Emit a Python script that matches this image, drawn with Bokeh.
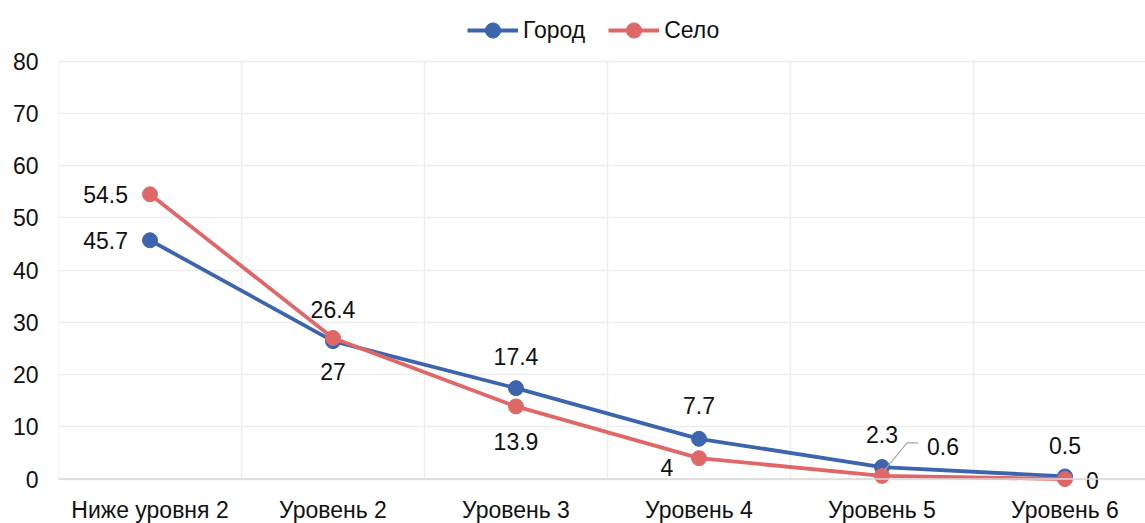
from bokeh.plotting import figure
from bokeh.models import Range1d, FixedTicker, Legend, LegendItem, ColumnDataSource, Span
from bokeh.core.properties import value
from bokeh.embed import file_html
from bokeh.resources import INLINE

# ---- data ----
categories = ["Ниже уровня 2", "Уровень 2", "Уровень 3", "Уровень 4", "Уровень 5", "Уровень 6"]
gorod = [45.7, 26.4, 17.4, 7.7, 2.3, 0.5]
selo = [54.5, 27.0, 13.9, 4.0, 0.6, 0.0]
y_ticks = [0, 10, 20, 30, 40, 50, 60, 70, 80]
series_names = ["Город", "Село"]

# ---- styles ----
BLUE = "#3d65ad"
RED = "#e06767"
FONT = "Liberation Sans"
FS = "23px"
CAT_PX = 183            # width of one category band in px
Y_UNIT_PX = 418 / 80.0  # px per y unit
Y_PAD = 2               # room below zero so markers/labels at 0 are not clipped
FRAME_W = 1087
FRAME_H = 489
Y_TOP = -Y_PAD + FRAME_H / Y_UNIT_PX

# label placement (screen px offsets, style only)
g_xoff = [-22, 0, 0, 0, 0, 0]
g_yoff = [0, -32, -32, -33, -33, -31]
g_align = ["right", "center", "center", "center", "center", "center"]
s_xoff = [-22, 0, 0, -32, 45, 21]
s_yoff = [0, 34, 35, 9, -29, 1]
s_align = ["right", "center", "center", "center", "left", "left"]

x = [i + 0.5 for i in range(len(categories))]

p = figure(frame_width=FRAME_W, frame_height=FRAME_H,
           min_border_left=58, min_border_right=0, min_border_top=0, min_border_bottom=34,
           x_range=Range1d(0, FRAME_W / CAT_PX), y_range=Range1d(-Y_PAD, Y_TOP),
           output_backend="svg", toolbar_location=None)
p.outline_line_color = None
p.background_fill_color = "white"

# axes
p.xaxis.ticker = FixedTicker(ticks=x)
p.xaxis.major_label_overrides = {xi: c for xi, c in zip(x, categories)}
p.yaxis.ticker = FixedTicker(ticks=y_ticks)
for ax in (p.xaxis[0], p.yaxis[0]):
    ax.major_tick_line_color = None
    ax.minor_tick_line_color = None
    ax.major_tick_out = 0
    ax.major_tick_in = 0
    ax.axis_line_color = None
    ax.major_label_text_font = FONT
    ax.major_label_text_font_size = FS
    ax.major_label_text_color = "#111111"
p.yaxis.major_label_standoff = 20
p.xaxis.major_label_standoff = 7

# grids: horizontal via ygrid, vertical category boundaries limited to 0..80
p.ygrid.ticker = FixedTicker(ticks=y_ticks)
p.ygrid.grid_line_color = "#ededed"
p.ygrid.grid_line_width = 1.5
p.xgrid.grid_line_color = None
bounds = list(range(len(categories) + 1))
p.segment(x0=bounds, y0=[y_ticks[0]] * len(bounds), x1=bounds, y1=[y_ticks[-1]] * len(bounds),
          line_color="#ededed", line_width=1.5)
p.add_layout(Span(location=y_ticks[0], dimension="width", line_color="#d9d9d9", line_width=1.5))

src = ColumnDataSource(dict(
    x=x, gorod=gorod, selo=selo,
    g_lab=[f"{v:g}" for v in gorod], s_lab=[f"{v:g}" for v in selo],
    g_xoff=g_xoff, g_yoff=g_yoff, g_align=g_align,
    s_xoff=s_xoff, s_yoff=s_yoff, s_align=s_align,
))

gl = p.line("x", "gorod", source=src, line_color=BLUE, line_width=3.8)
gc = p.scatter("x", "gorod", source=src, size=15, fill_color=BLUE, line_color=BLUE)
sl = p.line("x", "selo", source=src, line_color=RED, line_width=3.8)
sc = p.scatter("x", "selo", source=src, size=15, fill_color=RED, line_color=RED)

# leader line for the small "Село" label at Уровень 5
i5 = 4
xpx = 1.0 / CAT_PX
ypx = 1.0 / Y_UNIT_PX
p.line([x[i5] + 2 * xpx, x[i5] + 25 * xpx, x[i5] + 36 * xpx],
       [selo[i5] + 5 * ypx, selo[i5] + 33 * ypx, selo[i5] + 33 * ypx],
       line_color="#a6a6a6", line_width=1.2)

# data labels
p.text("x", "gorod", text="g_lab", source=src, x_offset="g_xoff", y_offset="g_yoff",
       text_align="g_align", text_baseline="middle", text_font=value(FONT),
       text_font_size=FS, text_color="#111111")
p.text("x", "selo", text="s_lab", source=src, x_offset="s_xoff", y_offset="s_yoff",
       text_align="s_align", text_baseline="middle", text_font=value(FONT),
       text_font_size=FS, text_color="#111111")

legend = Legend(items=[LegendItem(label=series_names[0], renderers=[gl, gc]),
                       LegendItem(label=series_names[1], renderers=[sl, sc])],
                orientation="horizontal", location=(409, FRAME_H - 30 - 19),
                glyph_width=51, glyph_height=38, label_standoff=5, spacing=23,
                padding=0, margin=0, background_fill_alpha=0, border_line_alpha=0,
                label_text_font=FONT, label_text_font_size=FS, label_text_color="#111111")
p.add_layout(legend)

open("out.html", "w").write(file_html(p, INLINE))
